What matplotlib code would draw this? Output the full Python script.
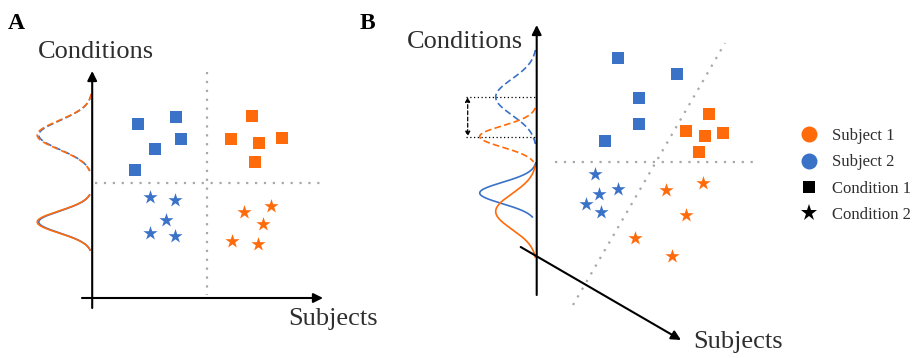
import numpy as np
import matplotlib.pyplot as plt
from matplotlib.lines import Line2D

plt.rcParams['font.family'] = ['Liberation Serif', 'DejaVu Serif']

ORANGE = '#FF6A0A'
BLUE = '#3A72C8'
GREY = '#A8A8A8'
TEXT = '#2E2E2E'

# ---- panel A: points (canvas pixel coordinates, y grows downward) ----
a_sq_blue_x = [138, 176, 181, 155, 135]
a_sq_blue_y = [124, 117, 139, 149, 170]
a_sq_orange_x = [252, 231, 259, 282, 255]
a_sq_orange_y = [116, 139, 143, 138, 162]
a_st_blue_x = [150, 175, 166, 150, 175]
a_st_blue_y = [197, 200, 220, 233, 236]
a_st_orange_x = [271, 244, 263, 232, 258]
a_st_orange_y = [206, 212, 224, 241, 244]

# ---- panel B: points ----
b_sq_blue_x = [618, 677, 639, 639, 605]
b_sq_blue_y = [58, 74, 98, 124, 141]
b_sq_orange_x = [709, 686, 705, 723, 699]
b_sq_orange_y = [114, 131, 136, 133, 152]
b_st_blue_x = [595, 618, 599, 586, 601]
b_st_blue_y = [174, 189, 194, 204, 212]
b_st_orange_x = [703, 666, 686, 635, 672]
b_st_orange_y = [183, 190, 215, 238, 256]

# ---- marginal densities: centre, sigma, amplitude, span top, span bottom ----
a_dens_center = [135, 135, 222, 222]
a_dens_sigma = [14.5, 14.5, 11, 11]
a_dens_amp = [53.5, 55, 53.5, 55]
a_dens_top = [94, 94, 195, 195]
a_dens_bot = [171, 171, 250, 250]
a_dens_color = [BLUE, ORANGE, BLUE, ORANGE]
a_dens_style = ['--', '--', '-', '-']

b_dens_center = [97, 136.5, 193, 211.5]
b_dens_sigma = [18, 10.6, 10.6, 17.7]
b_dens_amp = [41, 57, 57, 41]
b_dens_top = [50, 108, 163, 166]
b_dens_bot = [147, 162, 217, 257]
b_dens_color = [BLUE, ORANGE, BLUE, ORANGE]
b_dens_style = ['--', '--', '-', '-']

legend_labels = ['Subject 1', 'Subject 2', 'Condition 1', 'Condition 2']

fig = plt.figure(figsize=(9.23, 3.58), dpi=100)
ax = fig.add_axes([0, 0, 1, 1])
ax.set_xlim(0, 923)
ax.set_ylim(358, 0)
ax.axis('off')

SQ = 74
ST = 115


def arrow(x0, y0, x1, y1, lw=1.5, style='-|>', ls='-', scale=14):
    ax.annotate('', xy=(x1, y1), xytext=(x0, y0),
                arrowprops=dict(arrowstyle=style, color='black', lw=lw,
                                linestyle=ls, mutation_scale=scale,
                                shrinkA=0, shrinkB=0))


def densities(axis_x, centers, sigmas, amps, tops, bots, colors, styles):
    for c, s, a, t, b, col, st in zip(centers, sigmas, amps, tops, bots, colors, styles):
        y = np.linspace(t, b, 200)
        x = axis_x - a * np.exp(-0.5 * ((y - c) / s) ** 2)
        if st == '--':
            ax.plot(x, y, color=col, lw=1.2, ls='--', dashes=(4, 2))
        else:
            ax.plot(x, y, color=col, lw=1.2)


# ================= panel A =================
ax.text(8, 29, 'A', fontsize=17, fontweight='bold', color='black')
ax.text(38, 58, 'Conditions', fontsize=19, color=TEXT)
ax.text(288, 325, 'Subjects', fontsize=19, color=TEXT)

ax.plot([207, 207], [72, 295], color=GREY, lw=1.6, ls=(0, (1, 3)))
ax.plot([95, 320], [183, 183], color=GREY, lw=1.6, ls=(0, (1, 3)))

arrow(92.2, 308, 92.2, 71)
arrow(82, 298, 323, 298)

densities(92.2, a_dens_center, a_dens_sigma, a_dens_amp, a_dens_top,
          a_dens_bot, a_dens_color, a_dens_style)

ax.scatter(a_sq_blue_x, a_sq_blue_y, s=SQ, marker='s', color=BLUE, lw=0)
ax.scatter(a_sq_orange_x, a_sq_orange_y, s=SQ, marker='s', color=ORANGE, lw=0)
ax.scatter(a_st_blue_x, a_st_blue_y, s=ST, marker='*', color=BLUE, lw=0)
ax.scatter(a_st_orange_x, a_st_orange_y, s=ST, marker='*', color=ORANGE, lw=0)

# ================= panel B =================
ax.text(360, 29, 'B', fontsize=17, fontweight='bold', color='black')
ax.text(407, 47.5, 'Conditions', fontsize=19, color=TEXT)
ax.text(693, 348, 'Subjects', fontsize=19, color=TEXT)

ax.plot([573, 725], [305, 43], color=GREY, lw=1.6, ls=(0, (1, 3)))
ax.plot([555, 757], [162, 162], color=GREY, lw=1.6, ls=(0, (1, 3)))

arrow(536.7, 295, 536.7, 25)
arrow(520.7, 247, 681, 340)

densities(536.7, b_dens_center, b_dens_sigma, b_dens_amp, b_dens_top,
          b_dens_bot, b_dens_color, b_dens_style)

# shift between the two condition-1 peaks
for yy in (b_dens_center[0], b_dens_center[1]):
    ax.plot([466, 536.7], [yy, yy], color='black', lw=0.9, ls=(0, (1, 2)))
arrow(467.7, b_dens_center[0], 467.7, b_dens_center[1], lw=0.9, style='<|-|>',
      ls=(0, (3, 2)), scale=7)

ax.scatter(b_sq_blue_x, b_sq_blue_y, s=SQ, marker='s', color=BLUE, lw=0)
ax.scatter(b_sq_orange_x, b_sq_orange_y, s=SQ, marker='s', color=ORANGE, lw=0)
ax.scatter(b_st_blue_x, b_st_blue_y, s=ST, marker='*', color=BLUE, lw=0)
ax.scatter(b_st_orange_x, b_st_orange_y, s=ST, marker='*', color=ORANGE, lw=0)

# ================= legend =================
handles = [
    Line2D([], [], ls='', marker='o', ms=11.5, mew=0, color=ORANGE),
    Line2D([], [], ls='', marker='o', ms=11.5, mew=0, color=BLUE),
    Line2D([], [], ls='', marker='s', ms=8.5, mew=0, color='black'),
    Line2D([], [], ls='', marker='*', ms=12.5, mew=0, color='black'),
]
leg = ax.legend(handles, legend_labels, loc='upper left',
                bbox_to_anchor=(799 / 923, 1 - 128 / 358), frameon=False,
                fontsize=12, handlelength=1.2, handletextpad=0.75,
                labelspacing=0.62, borderpad=0, borderaxespad=0)
for t in leg.get_texts():
    t.set_color(TEXT)

fig.savefig('out.png', dpi=100)
